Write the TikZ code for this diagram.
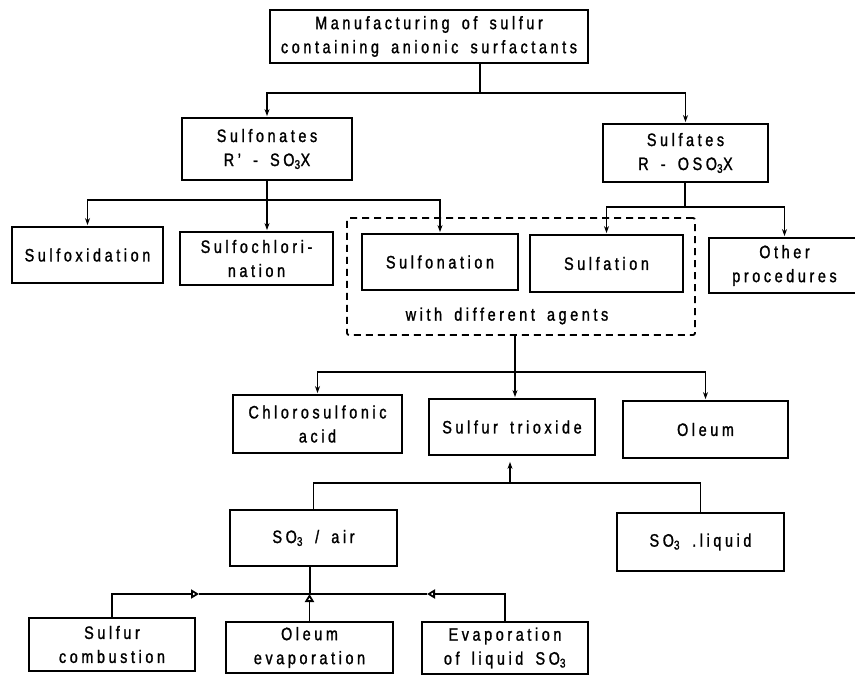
\documentclass[tikz,border=0pt]{standalone}
\usepackage{fontspec}
\setmainfont{Liberation Sans}[FakeStretch=0.8,LetterSpace=20,WordSpace=1.6,FakeBold=1.3]
\usetikzlibrary{arrows.meta}
\begin{document}
\begin{tikzpicture}[x=1pt,y=-1pt,line width=1.8pt,
  font=\fontsize{18}{24}\selectfont,
  box/.style={draw,align=center,inner sep=2pt},
  dashbox/.style={draw,dash pattern=on 7pt off 5pt,rounded corners=2pt},
  arr/.style={-{Stealth[length=7pt,width=5pt]},shorten >=1pt},
  tri/.style={-{Triangle[open,length=8pt,width=9pt]}}]
  \useasboundingbox (0,0) rectangle (855,676);
  \node[box,minimum width=318,minimum height=53] (top) at (429,36.5) {Manufacturing of sulfur\\containing anionic surfactants};
  \node[box,minimum width=170,minimum height=62] (sulfonates) at (267,149) {Sulfonates\\R' - SO\textsubscript{3}X};
  \node[box,minimum width=165,minimum height=58] (sulfates) at (685.5,153) {Sulfates\\R - OSO\textsubscript{3}X};
  \node[box,minimum width=151,minimum height=56] (sulfoxid) at (87.5,255) {Sulfoxidation};
  \node[box,minimum width=153,minimum height=53] (sulfochl) at (256.5,258.5) {Sulfochlori-\\nation};
  \node[dashbox,minimum width=348,minimum height=117] (agents) at (521,276.5) {};
  \node[box,minimum width=156,minimum height=56] (sulfonation) at (440,262) {Sulfonation};
  \node[box,minimum width=153,minimum height=57] (sulfation) at (606.5,263.5) {Sulfation};
  \node[box,minimum width=151,minimum height=55] (other) at (784.5,265.5) {Other\\procedures};
  \node (agtxt) at (507,316) {with different agents};
  \node[box,minimum width=169,minimum height=58] (chloro) at (317.5,424) {Chlorosulfonic\\acid};
  \node[box,minimum width=166,minimum height=56] (trioxide) at (512,427) {Sulfur trioxide};
  \node[box,minimum width=165,minimum height=57] (oleum) at (705.5,429.5) {Oleum};
  \node[box,minimum width=167,minimum height=56] (so3air) at (313.5,538) {SO\textsubscript{3} / air};
  \node[box,minimum width=167,minimum height=58] (so3liq) at (700.5,542) {SO\textsubscript{3} .liquid};
  \node[box,minimum width=166,minimum height=53] (combust) at (112,644.5) {Sulfur\\combustion};
  \node[box,minimum width=167,minimum height=51] (oleumevap) at (309.5,647.5) {Oleum\\evaporation};
  \node[box,minimum width=166,minimum height=52] (evap) at (505,648) {Evaporation\\of liquid SO\textsubscript{3}};
  \coordinate (j0) at (480,93);
  \coordinate (j1) at (267,200);
  \coordinate (j2) at (685,207);
  \coordinate (j3) at (515,372);
  \coordinate (j4) at (510,483);
  \coordinate (j5) at (310,594);
  \coordinate (m1) at (199,594);
  \coordinate (m2) at (427,594);
  \draw (top.south -| j0)--(j0);
  \draw[arr] (j0) -| (sulfonates.north);
  \draw[arr] (j0) -| (sulfates.north);
  \draw (sulfonates.south)--(j1);
  \draw[arr] (j1) -| (sulfoxid.north);
  \draw[arr] (j1)--(j1 |- sulfochl.north);
  \draw[arr] (j1) -| (sulfonation.north);
  \draw (sulfates.south -| j2)--(j2);
  \draw[arr] (j2) -| (sulfation.north);
  \draw[arr] (j2) -| (other.north);
  \draw (agents.south -| j3)--(j3);
  \draw[arr] (j3) -| (chloro.north);
  \draw[arr] (j3)--(j3 |- trioxide.north);
  \draw[arr] (j3) -| (oleum.north);
  \draw[arr,shorten >=6pt] (j4)--(j4 |- trioxide.south);
  \draw (j4) -| (so3air.north);
  \draw (j4) -| (so3liq.north);
  \draw (so3air.south -| j5)--(j5);
  \draw[tri] (combust.north) |- (m1);
  \draw (m1)--(j5);
  \draw[tri] (oleumevap.north)--(oleumevap.north |- j5);
  \draw (j5)--(m2);
  \draw[tri] (evap.north) |- (m2);
\end{tikzpicture}
\end{document}
